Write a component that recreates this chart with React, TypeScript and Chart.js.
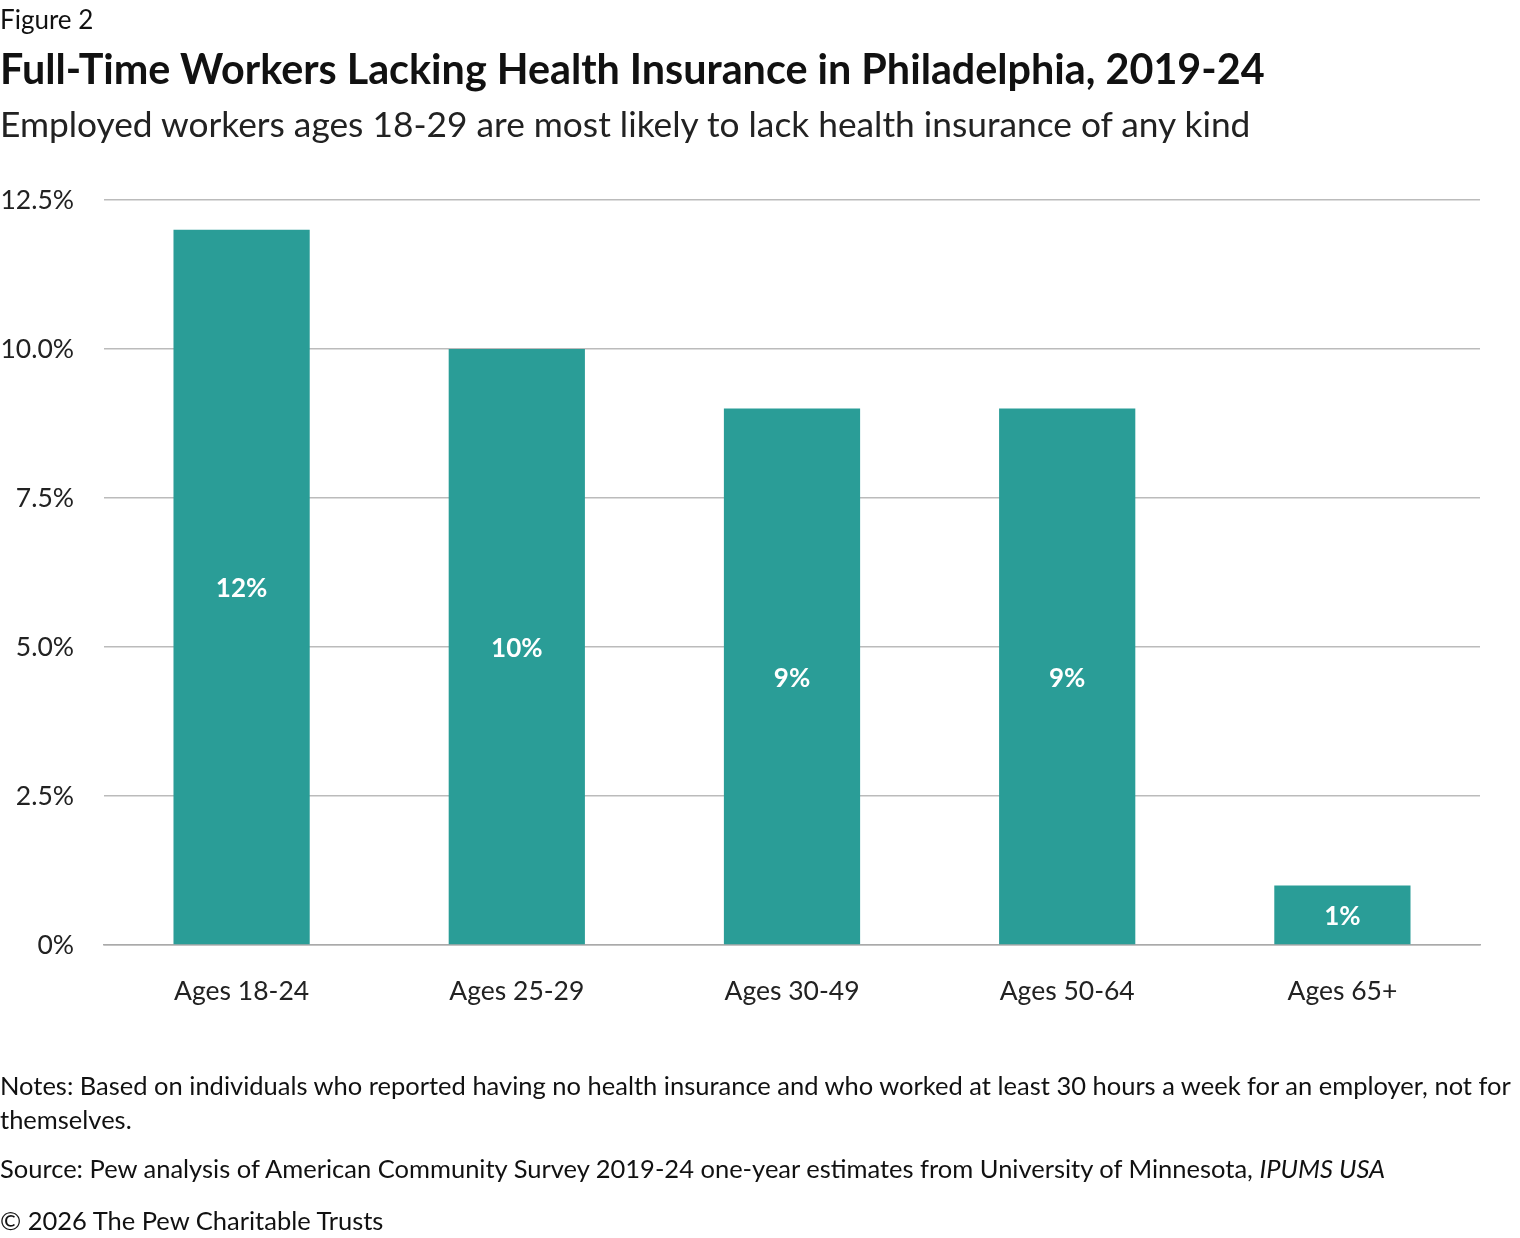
import { useEffect, useRef } from "react";
import { Chart, registerables, Plugin } from "chart.js";

Chart.register(...registerables);

const categories = ["Ages 18-24", "Ages 25-29", "Ages 30-49", "Ages 50-64", "Ages 65+"];
const values = [12, 10, 9, 9, 1];
const barLabels = ["12%", "10%", "9%", "9%", "1%"];

const FONT = "Lato, 'Noto Sans', sans-serif";

const barText: Plugin = {
  id: "barText",
  afterDatasetsDraw(chart) {
    const ctx = chart.ctx;
    const meta = chart.getDatasetMeta(0);
    ctx.save();
    ctx.fillStyle = "#ffffff";
    ctx.font = `bold 26px ${FONT}`;
    ctx.textAlign = "center";
    ctx.textBaseline = "middle";
    meta.data.forEach((bar: any, i) => {
      ctx.fillText(barLabels[i], bar.x, (bar.y + bar.base) / 2 + 2);
    });
    ctx.restore();
  },
};

const BarChart = () => {
  const chartRef = useRef<HTMLCanvasElement>(null);
  useEffect(() => {
    const chart = new Chart(chartRef.current as HTMLCanvasElement, {
      type: "bar",
      data: {
        labels: categories,
        datasets: [
          {
            data: values,
            backgroundColor: "#2a9d97",
            barPercentage: 0.495,
            categoryPercentage: 1,
          },
        ],
      },
      options: {
        animation: false,
        responsive: false,
        layout: { padding: { top: 200, right: 40, left: 0, bottom: 0 } },
        scales: {
          x: {
            grid: { display: false, drawTicks: false },
            border: { display: true, color: "#aaaaaa", width: 1.5 },
            ticks: { color: "#222", font: { family: FONT, size: 26.5 }, padding: 31 },
            afterFit: (s: any) => {
              s.height = 1238 - 945;
            },
          },
          y: {
            min: 0,
            max: 12.5,
            border: { display: false },
            grid: { color: "#bbbbbb", lineWidth: 1.5, drawTicks: false },
            ticks: {
              stepSize: 2.5,
              color: "#222",
              padding: 30,
              font: { family: FONT, size: 26.5 },
              callback: (v: any) => (v === 0 ? "0%" : Number(v).toFixed(1) + "%"),
            },
            afterFit: (s: any) => {
              s.width = 104;
            },
          },
        },
        plugins: { legend: { display: false }, title: { display: false }, tooltip: { enabled: false } },
      },
      plugins: [barText],
    });
    return () => chart.destroy();
  }, []);
  return <canvas ref={chartRef} width={1520} height={1238} style={{ position: "absolute", left: 0, top: 0 }} />;
};

const t = (top: number, size: number, extra: any = {}) => ({
  position: "absolute" as const,
  left: 0,
  top,
  margin: 0,
  fontSize: size,
  fontFamily: FONT,
  color: "#111",
  whiteSpace: "nowrap" as const,
  lineHeight: 1.3,
  ...extra,
});

export default function App() {
  useEffect(() => {
    document.body.style.margin = "0";
  }, []);
  return (
    <div style={{ position: "relative", width: 1520, height: 1238, background: "#fff", overflow: "hidden" }}>
      <BarChart />
      <div style={t(3, 26)}>Figure 2</div>
      <div style={t(42, 41.3, { fontWeight: 700 })}>Full-Time Workers Lacking Health Insurance in Philadelphia, 2019-24</div>
      <div style={t(101, 35.3, { color: "#222" })}>Employed workers ages 18-29 are most likely to lack health insurance of any kind</div>
      <div style={t(1068, 25.5, { whiteSpace: "normal", width: 1520, lineHeight: "34px" })}>
        Notes: Based on individuals who reported having no health insurance and who worked at least 30 hours a week for an employer, not for themselves.
      </div>
      <div style={t(1152, 25.5)}>
        Source: Pew analysis of American Community Survey 2019-24 one-year estimates from University of Minnesota, <i>IPUMS USA</i>
      </div>
      <div style={t(1204, 25.5)}>© 2026 The Pew Charitable Trusts</div>
    </div>
  );
}
